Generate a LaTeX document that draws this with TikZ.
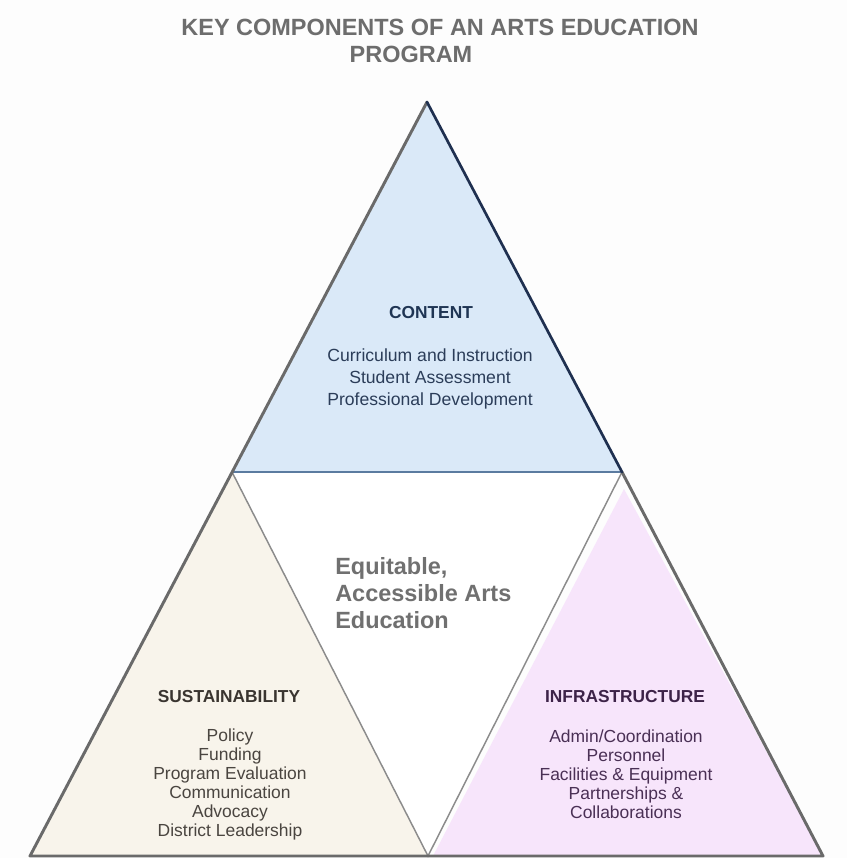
\documentclass[tikz,border=0pt]{standalone}
\usepackage{fontspec}
\setmainfont{Liberation Sans}
\definecolor{bgc}{HTML}{FDFDFD}
\definecolor{topfill}{HTML}{DAE9F8}
\definecolor{leftfill}{HTML}{F8F4EB}
\definecolor{rightfill}{HTML}{F7E5FB}
\definecolor{edgegray}{HTML}{6A6A6A}
\definecolor{innergray}{HTML}{8C8C8C}
\definecolor{navyedge}{HTML}{1F3050}
\definecolor{baseblue}{HTML}{5B7BA0}
\definecolor{titlegray}{HTML}{6D6D6D}
\definecolor{contenthead}{HTML}{1F3554}
\definecolor{contentbody}{HTML}{2B3D59}
\definecolor{sushead}{HTML}{3A3530}
\definecolor{susbody}{HTML}{4A4540}
\definecolor{infhead}{HTML}{3D2348}
\definecolor{infbody}{HTML}{4A3055}
\definecolor{centergray}{HTML}{707070}
\begin{document}
\begin{tikzpicture}[x=0.75pt,y=-0.75pt,
  titletext/.style={font=\fontsize{17.6}{20}\selectfont\bfseries, text=titlegray, inner sep=0pt},
  headtext/.style={font=\fontsize{13}{15}\selectfont\bfseries, inner sep=0pt},
  bodytext/.style={align=center, inner sep=0pt},
  outeredge/.style={draw=edgegray, line width=2.2pt, line cap=round, line join=round},
  inneredge/.style={draw=innergray, line width=1.1pt}
]
\useasboundingbox[fill=bgc] (0,0) rectangle (847,858);
\coordinate (A) at (427,102);
\coordinate (L) at (30,856);
\coordinate (R) at (823,856);
\coordinate (ML) at (232,472);
\coordinate (MR) at (622,472);
\coordinate (MB) at (428,856);
% fills
\fill[topfill] (A) -- (ML) -- (MR) -- cycle;
\fill[leftfill] (ML) -- (L) -- (MB) -- cycle;
\fill[white] (ML) -- (MR) -- (MB) -- cycle;
\fill[rightfill] (624,489) -- (433,856) -- (R) -- cycle;
% inner lines
\draw[inneredge] (ML) -- (MB) -- (MR);
\draw[draw=baseblue, line width=1.2pt] (ML) -- (MR);
% outer edges
\draw[outeredge] (MR) -- (R) -- (L) -- (A);
\draw[draw=navyedge, line width=2pt, line cap=round] (A) -- (MR);
% title
\node[titletext] (t1) at (440,27) {KEY COMPONENTS OF AN ARTS EDUCATION};
\node[titletext] (t2) at (411,54) {PROGRAM};
% content
\node[headtext, text=contenthead] (ch) at (431,313) {CONTENT};
\node[bodytext, text=contentbody, font=\fontsize{13.2}{16.5}\selectfont] (cb) at (430,379) {Curriculum and Instruction\\Student Assessment\\Professional Development};
% center
\node[align=left, anchor=west, inner sep=0pt, text=centergray, font=\fontsize{17.6}{20.3}\selectfont\bfseries] (cc) at (335,593) {Equitable,\\Accessible Arts\\Education};
% sustainability
\node[headtext, text=sushead] (sh) at (229,697) {SUSTAINABILITY};
\node[bodytext, text=susbody, font=\fontsize{13.1}{14.25}\selectfont] (sb) at (230,784) {Policy\\Funding\\Program Evaluation\\Communication\\Advocacy\\District Leadership};
% infrastructure
\node[headtext, text=infhead] (ih) at (625,697) {INFRASTRUCTURE};
\node[bodytext, text=infbody, font=\fontsize{13.1}{14.25}\selectfont] (ib) at (626,774) {Admin/Coordination\\Personnel\\Facilities \& Equipment\\Partnerships \&\\Collaborations};
\end{tikzpicture}
\end{document}
